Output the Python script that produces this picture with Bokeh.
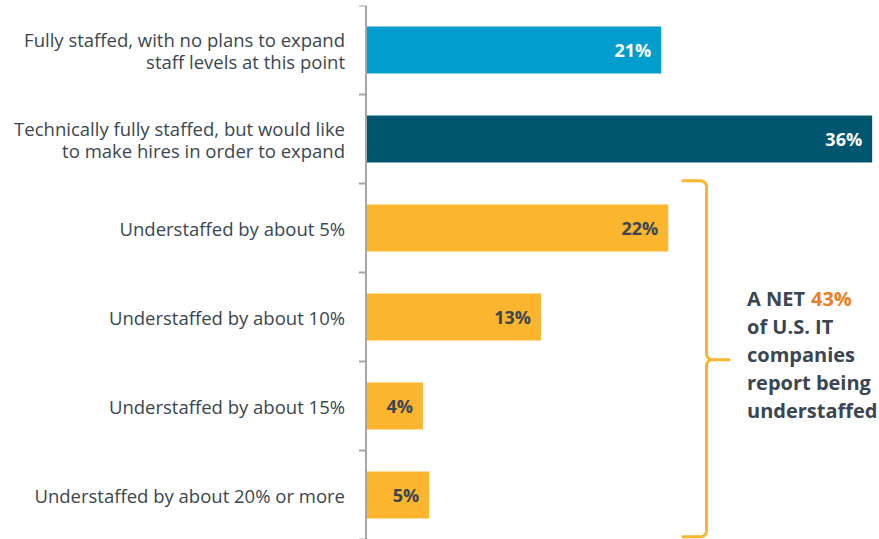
import numpy as np
from bokeh.plotting import figure
from bokeh.models import ColumnDataSource, Range1d, FactorRange, Span
from bokeh.core.properties import value
from bokeh.embed import file_html
from bokeh.resources import INLINE

# ---- data ----
categories = [
    "Fully staffed, with no plans to expand\nstaff levels at this point",
    "Technically fully staffed, but would like\nto make hires in order to expand",
    "Understaffed by about 5%",
    "Understaffed by about 10%",
    "Understaffed by about 15%",
    "Understaffed by about 20% or more",
]
values = [21.0, 36.0, 21.5, 12.45, 4.05, 4.5]
value_labels = ["21%", "36%", "22%", "13%", "4%", "5%"]
bar_colors = ["#009DCD", "#00566F", "#FBB52F", "#FBB52F", "#FBB52F", "#FBB52F"]
label_colors = ["#FFFFFF", "#FFFFFF", "#3A4651", "#3A4651", "#3A4651", "#3A4651"]
net_value = "43%"
note_lines = ["A NET ", "of U.S. IT", "companies", "report being", "understaffed"]

FONT = "Open Sans"
TEXT_DARK = "#3A4651"
AXIS_GREY = "#A6A6A6"
BRACE = "#FBB52F"

px_per_unit = 14.06
W, H = 879, 539
x0 = -365.5 / px_per_unit
x1 = x0 + W / px_per_unit

factors = list(reversed(categories))
p = figure(width=W, height=H, output_backend="svg", toolbar_location=None,
           x_range=Range1d(x0, x1), y_range=FactorRange(*factors),
           x_axis_location=None, y_axis_location=None,
           min_border_left=0, min_border_right=0, min_border_top=5, min_border_bottom=0)
p.outline_line_color = None
p.xgrid.visible = False
p.ygrid.visible = False
p.background_fill_color = "white"
p.border_fill_color = "white"

src = ColumnDataSource(dict(cat=categories, val=values, lab=value_labels,
                            color=bar_colors, lcolor=label_colors))
p.hbar(y="cat", left=0, right="val", height=0.53, fill_color="color",
       line_color=None, source=src)

p.text(x="val", y="cat", text="lab", text_color="lcolor", source=src,
       text_font=value(FONT), text_font_style="bold", text_font_size="18px",
       text_align="right", text_baseline="middle", x_offset=-10)

# category labels (split multi-line)
lx, ly, lt, lo = [], [], [], []
for c in categories:
    lines = c.split("\n")
    n = len(lines)
    for i, ln in enumerate(lines):
        lx.append(0)
        ly.append(c)
        lt.append(ln)
        lo.append((i - (n - 1) / 2) * 22)
p.text(x=lx, y=ly, text=lt, y_offset=lo, text_color=TEXT_DARK,
       text_font=value(FONT), text_font_size="18.5px",
       text_align="right", text_baseline="middle", x_offset=-21)

# axis line and boundary ticks
p.add_layout(Span(location=0, dimension="height", line_color=AXIS_GREY, line_width=2))
nb = len(categories) + 1
tick_src = ColumnDataSource(dict(x0=[-7 / px_per_unit] * nb, x1=[0] * nb,
                                 y=list(range(nb))))
p.segment(x0="x0", y0="y", x1="x1", y1="y", line_color=AXIS_GREY, line_width=2,
          source=tick_src)

# curly brace spanning the understaffed rows (y synthetic 0..4)
xl = (683 - 366) / px_per_unit
xv = (706.5 - 366) / px_per_unit
xt = (729 - 366) / px_per_unit
ytop, ymid, ybot = 4.03, 2.02, 0.03
rx, ry = 6 / px_per_unit, 6 / 89.0

def arc(cx, cy, a0, a1, n=8):
    t = np.linspace(a0, a1, n)
    return list(cx + rx * np.cos(t)), list(cy + ry * np.sin(t))

bx, by = [xl], [ytop]
ax, ay = arc(xv - rx, ytop - ry, np.pi / 2, 0)
bx += ax; by += ay
ax, ay = arc(xv + rx, ymid + ry, np.pi, 3 * np.pi / 2)
bx += ax; by += ay
bx += [xt]; by += [ymid]
ax, ay = arc(xv + rx, ymid - ry, np.pi / 2, np.pi)
bx += ax; by += ay
ax, ay = arc(xv - rx, ybot + ry, 0, -np.pi / 2)
bx += ax; by += ay
bx += [xl]; by += [ybot]
p.line(bx, by, line_color=BRACE, line_width=3, line_join="round", line_cap="round")

# note text
nx = (747 - 366) / px_per_unit
offs = [-61, -33, -5, 23, 51]
p.text(x=[nx] * len(note_lines), y=[ymid] * len(note_lines), text=note_lines,
       y_offset=offs, text_color=TEXT_DARK, text_font=value(FONT),
       text_font_style="bold", text_font_size="20px",
       text_align="left", text_baseline="middle")
p.text(x=[(811 - 366) / px_per_unit], y=[ymid], text=[net_value], y_offset=[offs[0]],
       text_color="#EF7D22", text_font=value(FONT), text_font_style="bold",
       text_font_size="20px", text_align="left", text_baseline="middle")

open("out.html", "w").write(file_html(p, INLINE))
